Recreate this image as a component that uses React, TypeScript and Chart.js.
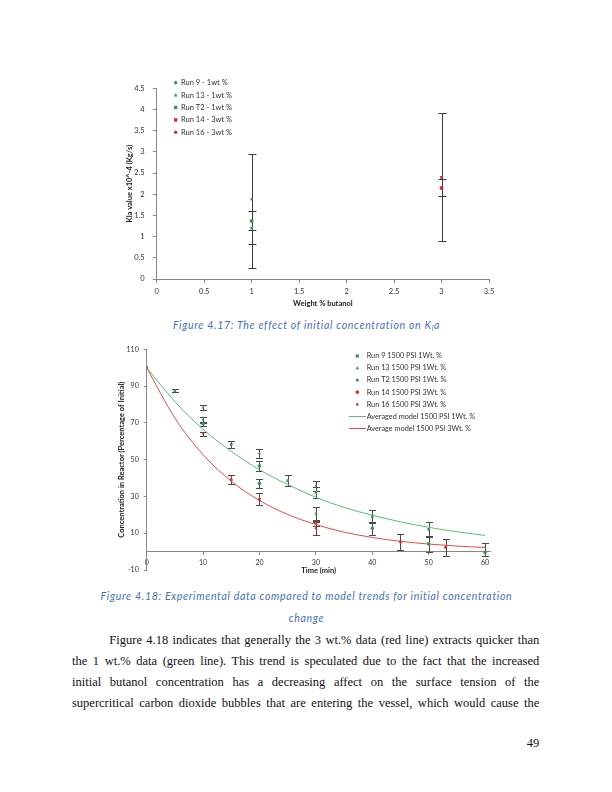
import React, { useEffect, useRef } from "react";
import { Chart, registerables } from "chart.js";

Chart.register(...registerables);

// ---------- Figure 4.17 data ----------
const klaLabels = ["Run 9 - 1wt %", "Run 13 - 1wt %", "Run T2 - 1wt %", "Run 14 - 3wt %", "Run 16 - 3wt %"];
const klaStyles = ["circle", "triangle", "rect", "rect", "circle"];
const klaColors = ["#3a9a50", "#3a9a50", "#3a9a50", "#e02a2a", "#e02a2a"];
const klaX = [1, 1, 1, 3, 3];
const klaY = [1.37, 1.88, 1.2, 2.4, 2.15];
const klaErrPlus = [0.24, 1.07, 0, 1.52, 0.2];
const klaErrMinus = [0.22, 1.05, 0.95, 1.5, 0.19];
const klaXTicks = [0, 0.5, 1, 1.5, 2, 2.5, 3, 3.5];
const klaYTicks = [0, 0.5, 1, 1.5, 2, 2.5, 3, 3.5, 4, 4.5];

// ---------- Figure 4.18 data ----------
const run9X = [0, 5, 15, 25, 30, 40, 50];
const run9Y = [100, 87.5, 58.3, 38.6, 32.2, 19.0, 12.1];
const run9Err = [0, 0.7, 1.9, 3.1, 3.2, 3.4, 4.1];

const run13X = [10, 10, 20, 30, 30];
const run13Y = [78.3, 71.6, 53.4, 35.7, 20.5];
const run13Err = [1.2, 1.5, 2.3, 2.8, 3.9];

const runT2X = [10, 20, 20, 40, 50, 60];
const runT2Y = [69.4, 46.6, 37.1, 12.7, 4.2, -0.6];
const runT2ErrPlus = [1.2, 2.6, 2.6, 3.5, 4.3, 5.5];
const runT2ErrMinus = [1.2, 2.6, 2.6, 3.5, 4.3, 2.0];

const run14X = [0, 15, 20, 30, 45, 53];
const run14Y = [100, 39.1, 28.4, 15.7, 5.2, 2.3];
const run14Err = [0, 2.6, 3.2, 1.6, 4.4, 4.6];

const run16X = [10, 30];
const run16Y = [64.1, 12.7];
const run16Err = [1.2, 3.6];

const modelX = [0, 5, 10, 15, 20, 25, 30, 35, 40, 45, 50, 55, 60];
const model1wtY = [100, 81.5, 66.5, 54.5, 44.5, 36.5, 29.5, 24.0, 19.8, 16.2, 13.2, 10.8, 8.8];
const model3wtY = [100, 72.6, 52.7, 38.3, 27.8, 20.2, 14.7, 10.6, 7.7, 5.6, 4.1, 3.0, 2.2];

const timeTicks = [0, 10, 20, 30, 40, 50, 60];
const concTicks = [-10, 10, 30, 50, 70, 90, 110];

const GREEN = "#3a9a50";
const RED = "#e02a2a";
const GREEN_LINE = "#5cbf72";
const RED_LINE = "#ea4a44";
const FONT = "Lato, 'Open Sans', sans-serif";

const toPts = (xs: number[], ys: number[]) => xs.map((x, i) => ({ x, y: ys[i] }));
const plainLabel = (v: any) => String(v);

function drawMarker(ctx: CanvasRenderingContext2D, shape: string, x: number, y: number, r: number, color: string) {
  ctx.fillStyle = color;
  ctx.beginPath();
  if (shape === "circle") {
    ctx.arc(x, y, r, 0, Math.PI * 2);
  } else if (shape === "triangle") {
    ctx.moveTo(x, y - r * 1.2);
    ctx.lineTo(x + r * 1.1, y + r * 0.8);
    ctx.lineTo(x - r * 1.1, y + r * 0.8);
    ctx.closePath();
  } else {
    ctx.rect(x - r, y - r, r * 2, r * 2);
  }
  ctx.fill();
}

const errorBarsPlugin = {
  id: "errorBars",
  beforeDatasetsDraw(chart: any, _args: any, opts: any) {
    const { ctx, scales } = chart;
    const xs = scales.x;
    const ys = scales.y;
    ctx.save();
    ctx.strokeStyle = opts.color || "#444";
    ctx.lineWidth = 1;
    chart.data.datasets.forEach((ds: any) => {
      if (!ds.errPlus) return;
      ds.data.forEach((p: any, j: number) => {
        const plus = ds.errPlus[j];
        const minus = ds.errMinus[j];
        if (!plus && !minus) return;
        const px = Math.round(xs.getPixelForValue(p.x)) + 0.5;
        const yt = Math.round(ys.getPixelForValue(p.y + plus)) + 0.5;
        const yb = Math.round(ys.getPixelForValue(p.y - minus)) + 0.5;
        const cap = opts.cap || 3.5;
        ctx.beginPath();
        ctx.moveTo(px, yt);
        ctx.lineTo(px, yb);
        if (plus > 0) {
          ctx.moveTo(px - cap, yt);
          ctx.lineTo(px + cap, yt);
        }
        if (minus > 0) {
          ctx.moveTo(px - cap, yb);
          ctx.lineTo(px + cap, yb);
        }
        ctx.stroke();
      });
    });
    ctx.restore();
  },
};

const pageLegendPlugin = {
  id: "pageLegend",
  afterDraw(chart: any, _args: any, opts: any) {
    if (!opts || !opts.items) return;
    const { ctx } = chart;
    ctx.save();
    ctx.font = opts.font;
    ctx.textBaseline = "middle";
    ctx.textAlign = "left";
    const datasets = chart.data.datasets;
    opts.items.forEach((dsIndex: number, i: number) => {
      const ds = datasets[dsIndex];
      const cy = opts.y + i * opts.gap;
      if (ds.showLine) {
        ctx.strokeStyle = ds.borderColor;
        ctx.lineWidth = 1;
        ctx.beginPath();
        ctx.moveTo(opts.lineX0, Math.round(cy) + 0.5);
        ctx.lineTo(opts.lineX1, Math.round(cy) + 0.5);
        ctx.stroke();
      } else {
        drawMarker(ctx, ds.pointStyle, opts.markerX, cy, opts.markerR, ds.backgroundColor);
      }
      ctx.fillStyle = opts.textColor;
      ctx.fillText(ds.label, opts.textX, cy);
    });
    ctx.restore();
  },
};

function KlaChart() {
  const ref = useRef<HTMLCanvasElement>(null);
  useEffect(() => {
    const left = 110;
    const top = 75;
    const datasets: any[] = klaLabels.map((label, i) => ({
      label,
      data: [{ x: klaX[i], y: klaY[i] }],
      pointStyle: klaStyles[i],
      pointRadius: 2,
      backgroundColor: klaColors[i],
      borderColor: klaColors[i],
      borderWidth: 0,
      errPlus: [klaErrPlus[i]],
      errMinus: [klaErrMinus[i]],
    }));
    const chart = new Chart(ref.current as HTMLCanvasElement, {
      type: "scatter",
      data: { datasets },
      plugins: [errorBarsPlugin, pageLegendPlugin],
      options: {
        animation: false,
        responsive: false,
        layout: { padding: { left: 12, top: 13.3, right: 11, bottom: 0 } },
        plugins: {
          legend: { display: false },
          tooltip: { enabled: false },
          errorBars: { color: "#3c3c3c", cap: 4 },
          pageLegend: {
            items: [0, 1, 2, 3, 4],
            font: `7.5px ${FONT}`,
            textColor: "#333",
            markerX: 175.7 - left,
            textX: 181 - left,
            y: 82.7 - top,
            gap: 12.4,
            markerR: 1.7,
          },
        } as any,
        scales: {
          x: {
            type: "linear",
            min: 0,
            max: 3.5,
            afterBuildTicks: (s: any) => { s.ticks = klaXTicks.map((v) => ({ value: v })); },
            afterFit: (s: any) => { s.height = 33; },
            grid: { drawOnChartArea: false, tickLength: 4, color: "#888" },
            border: { color: "#888" },
            ticks: { font: { family: FONT, size: 7.5 }, color: "#333", padding: 4, maxRotation: 0, callback: plainLabel },
            title: { display: true, text: "Weight % butanol", font: { family: FONT, size: 7.5, weight: "bold" }, color: "#222", padding: { top: 0, bottom: 4 } },
          },
          y: {
            type: "linear",
            min: 0,
            max: 4.5,
            afterBuildTicks: (s: any) => { s.ticks = klaYTicks.map((v) => ({ value: v })); },
            afterFit: (s: any) => { s.width = 34.7; },
            grid: { drawOnChartArea: false, tickLength: 4, color: "#888" },
            border: { color: "#888" },
            ticks: { font: { family: FONT, size: 7.5 }, color: "#333", padding: 8, callback: plainLabel },
            title: { display: true, text: "Kla value x10^-4 (Kg/s)", font: { family: FONT, size: 7.5, weight: "bold" }, color: "#222", padding: { top: 3, bottom: 0 } },
          },
        },
      } as any,
    });
    return () => chart.destroy();
  }, []);
  return (
    <canvas
      ref={ref}
      width={390}
      height={237}
      style={{ position: "absolute", left: 110, top: 75, width: 390, height: 237 }}
    />
  );
}

function ConcChart() {
  const ref = useRef<HTMLCanvasElement>(null);
  useEffect(() => {
    const left = 100;
    const top = 340;
    const mk = (label: string, xs: number[], ys: number[], errP: number[], errM: number[], style: string, color: string) => ({
      label,
      data: toPts(xs, ys),
      pointStyle: style,
      pointRadius: 1.8,
      backgroundColor: color,
      borderColor: color,
      borderWidth: 0,
      showLine: false,
      errPlus: errP,
      errMinus: errM,
    });
    const line = (label: string, ys: number[], color: string) => ({
      label,
      data: toPts(modelX, ys),
      showLine: true,
      pointRadius: 0,
      borderColor: color,
      backgroundColor: color,
      borderWidth: 1,
      tension: 0.4,
      cubicInterpolationMode: "monotone",
    });
    const datasets: any[] = [
      mk("Run 9 1500 PSI 1Wt. %", run9X, run9Y, run9Err, run9Err, "rect", GREEN),
      mk("Run 13 1500 PSI 1Wt. %", run13X, run13Y, run13Err, run13Err, "triangle", GREEN),
      mk("Run T2 1500 PSI 1Wt. %", runT2X, runT2Y, runT2ErrPlus, runT2ErrMinus, "circle", GREEN),
      mk("Run 14 1500 PSI 3Wt. %", run14X, run14Y, run14Err, run14Err, "rect", RED),
      mk("Run 16 1500 PSI 3Wt. %", run16X, run16Y, run16Err, run16Err, "triangle", RED),
      line("Averaged model 1500 PSI 1Wt. %", model1wtY, GREEN_LINE),
      line("Average model 1500 PSI 3Wt. %", model3wtY, RED_LINE),
    ];
    const chart = new Chart(ref.current as HTMLCanvasElement, {
      type: "scatter",
      data: { datasets },
      plugins: [errorBarsPlugin, pageLegendPlugin],
      options: {
        animation: false,
        responsive: false,
        layout: { padding: { left: 13.2, top: 9.3, right: 9.3, bottom: 15 } },
        plugins: {
          legend: { display: false },
          tooltip: { enabled: false },
          errorBars: { color: "#4a4a4a", cap: 3.5 },
          pageLegend: {
            items: [0, 1, 2, 3, 4, 5, 6],
            font: `7.3px ${FONT}`,
            textColor: "#333",
            markerX: 357.3 - left,
            textX: 366.7 - left,
            lineX0: 349 - left,
            lineX1: 366 - left,
            y: 356 - top,
            gap: 12.05,
            markerR: 1.6,
          },
        } as any,
        scales: {
          x: {
            type: "linear",
            position: { y: 0 },
            min: 0,
            max: 61,
            afterBuildTicks: (s: any) => { s.ticks = timeTicks.map((v) => ({ value: v })); },
            afterFit: (s: any) => { s.height = 23; },
            grid: { drawOnChartArea: false, tickLength: 3, color: "#888" },
            border: { color: "#888" },
            ticks: { font: { family: FONT, size: 7 }, color: "#333", padding: 4, maxRotation: 0, callback: plainLabel },
            title: { display: true, text: "Time (min)", font: { family: FONT, size: 7.5, weight: "bold" }, color: "#222", padding: { top: 0, bottom: 0 } },
          },
          y: {
            type: "linear",
            min: -10,
            max: 110,
            afterBuildTicks: (s: any) => { s.ticks = concTicks.map((v) => ({ value: v })); },
            afterFit: (s: any) => { s.width = 33.5; },
            grid: { drawOnChartArea: false, tickLength: 3, color: "#888" },
            border: { color: "#888" },
            ticks: { font: { family: FONT, size: 7 }, color: "#333", padding: 5, callback: plainLabel },
            title: { display: true, text: "Concentration in Reactor (Percentage of Initial)", font: { family: FONT, size: 7.5, weight: "bold" }, color: "#222", padding: { top: 4, bottom: 0 } },
          },
        },
      } as any,
    });
    return () => chart.destroy();
  }, []);
  return (
    <canvas
      ref={ref}
      width={400}
      height={245}
      style={{ position: "absolute", left: 100, top: 340, width: 400, height: 245 }}
    />
  );
}

const captionStyle: React.CSSProperties = {
  position: "absolute",
  left: 0,
  width: 612,
  textAlign: "center",
  fontFamily: FONT,
  fontStyle: "italic",
  fontSize: 10.5,
  letterSpacing: 0.7,
  color: "#4472b4",
  lineHeight: "14px",
  height: 14,
  whiteSpace: "nowrap",
};

const paraLines = [
  "Figure 4.18 indicates that generally the 3 wt.% data (red line) extracts quicker than",
  "the 1 wt.% data (green line). This trend is speculated due to the fact that the increased",
  "initial butanol concentration has a decreasing affect on the surface tension of the",
  "supercritical carbon dioxide bubbles that are entering the vessel, which would cause the",
];
const paraCenters = [640, 661, 682.3, 703.3];

export default function App() {
  return (
    <div style={{ position: "absolute", left: 0, top: 0, width: 612, height: 792, background: "#fff", overflow: "hidden" }}>
      <KlaChart />
      <div style={{ ...captionStyle, top: 325 - 7, left: 0.5 }}>
        Figure 4.17: The effect of initial concentration on K<sub style={{ fontSize: 7, verticalAlign: "-2px", lineHeight: 0 }}>l</sub>a
      </div>
      <ConcChart />
      <div style={{ ...captionStyle, top: 596 - 7, left: 0.5 }}>
        Figure 4.18: Experimental data compared to model trends for initial concentration
      </div>
      <div style={{ ...captionStyle, top: 618.3 - 7, left: 0.5 }}>change</div>
      {paraLines.map((t, i) => (
        <div
          key={i}
          style={{
            position: "absolute",
            left: i === 0 ? 109.3 : 72,
            width: i === 0 ? 539.3 - 109.3 : 539.3 - 72,
            top: paraCenters[i] - 10,
            height: 20,
            lineHeight: "20px",
            fontFamily: "'Liberation Serif', 'DejaVu Serif', serif",
            fontSize: 12.5,
            color: "#111",
            textAlign: "justify",
            textAlignLast: "justify",
            whiteSpace: "nowrap",
          }}
        >
          {t}
        </div>
      ))}
      <div
        style={{
          position: "absolute",
          left: 500,
          width: 39.3,
          top: 742.7 - 10,
          height: 20,
          lineHeight: "20px",
          textAlign: "right",
          fontFamily: "'Liberation Serif', 'DejaVu Serif', serif",
          fontSize: 12.5,
          color: "#111",
        }}
      >
        49
      </div>
    </div>
  );
}
